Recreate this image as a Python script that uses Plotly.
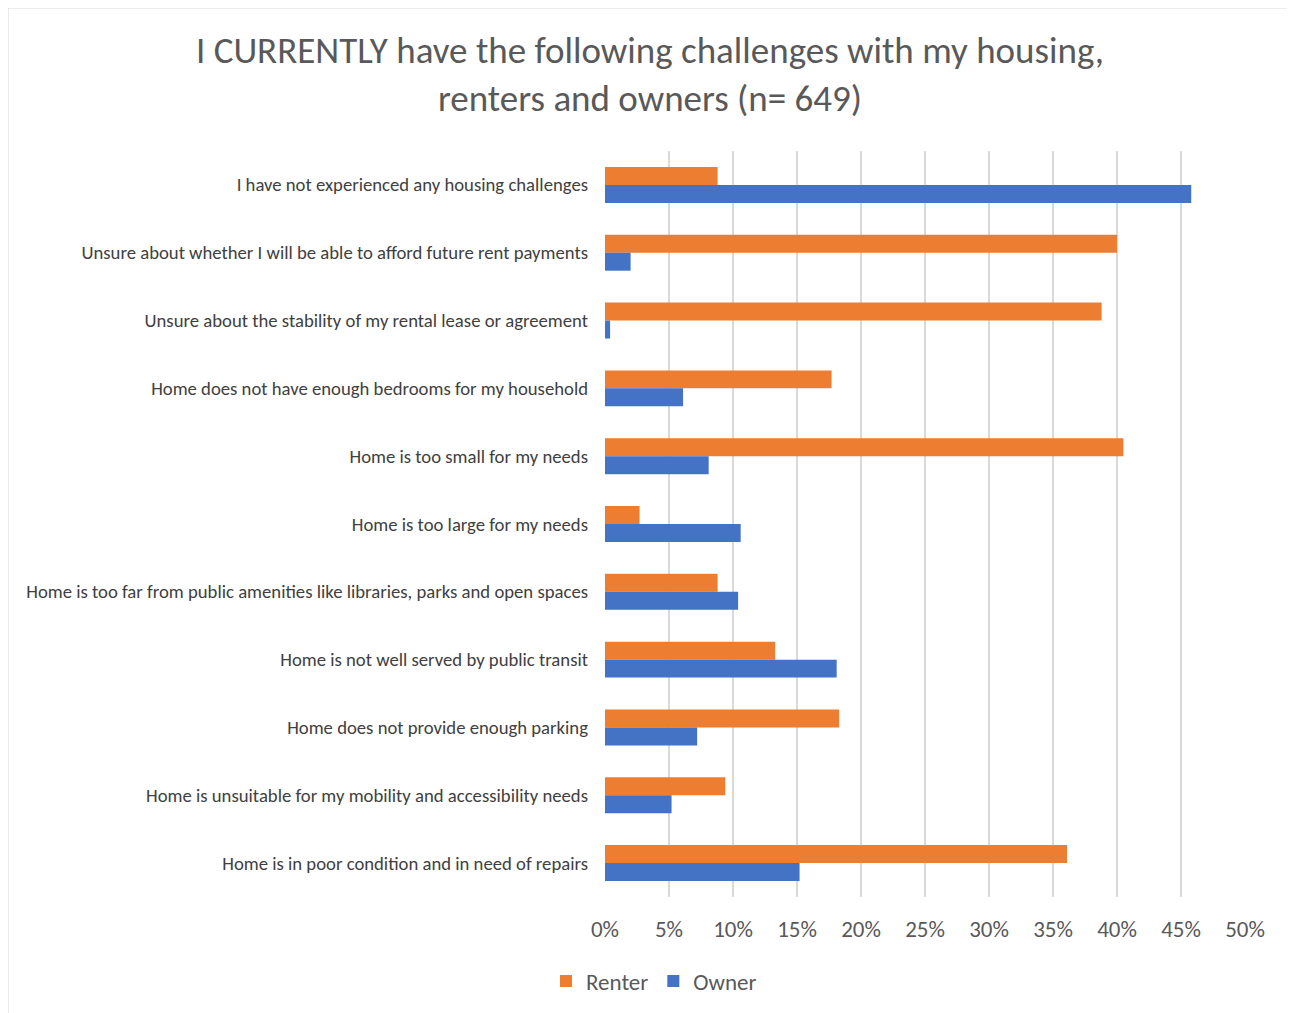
import plotly.graph_objects as go

categories = [
    "I have not experienced any housing challenges",
    "Unsure about whether I will be able to afford future rent payments",
    "Unsure about the stability of my rental lease or agreement",
    "Home does not have enough bedrooms for my household",
    "Home is too small for my needs",
    "Home is too large for my needs",
    "Home is too far from public amenities like libraries, parks and open spaces",
    "Home is not well served by public transit",
    "Home does not provide enough parking",
    "Home is unsuitable for my mobility and accessibility needs",
    "Home is in poor condition and in need of repairs",
]
renter = [8.8, 40.0, 38.8, 17.7, 40.5, 2.7, 8.8, 13.3, 18.3, 9.4, 36.1]
owner = [45.8, 2.0, 0.4, 6.1, 8.1, 10.6, 10.4, 18.1, 7.2, 5.2, 15.2]
x_ticks = [0, 5, 10, 15, 20, 25, 30, 35, 40, 45, 50]
x_tick_labels = [f"{v}%" for v in x_ticks]

FONT = "Carlito, Lato, 'Open Sans', sans-serif"

fig = go.Figure()
fig.add_trace(go.Bar(y=categories, x=renter, name="Renter", orientation="h",
                     marker=dict(color="#ED7D31", line=dict(width=0))))
fig.add_trace(go.Bar(y=categories, x=owner, name="Owner", orientation="h",
                     marker=dict(color="#4472C4", line=dict(width=0))))

OFF = 8  # page offset of the figure (body margin)
W, H = 1295 - OFF, 1013 - OFF
L, T = 605 - OFF, 151 - OFF
R = W - (1245 - OFF)
B = H - (897 - OFF)
pw = W - L - R
ph = H - T - B

fig.update_layout(
    width=W, height=H,
    margin=dict(l=L, r=R, t=T, b=B, autoexpand=False),
    paper_bgcolor="white", plot_bgcolor="white",
    barmode="group", bargap=0.47, bargroupgap=0,
    title=dict(text="I CURRENTLY have the following challenges with my housing,<br>renters and owners (n= 649)",
               x=(650 - OFF) / W, xanchor="center", y=1 - 55 / H, yanchor="middle",
               font=dict(family=FONT, size=37, color="#595959")),
    font=dict(family=FONT, color="#595959"),
    xaxis=dict(range=[0, 50], tickvals=x_ticks, ticktext=x_tick_labels,
               showgrid=True, gridcolor="#d9d9d9", gridwidth=1.5,
               zeroline=False, showline=False, ticks="",
               tickfont=dict(family=FONT, size=23, color="#595959"),
               ticklabelstandoff=16, fixedrange=True),
    yaxis=dict(autorange="reversed", showgrid=False, zeroline=False, showline=False,
               ticks="", tickfont=dict(family=FONT, size=18.7, color="#404040"),
               ticklabelstandoff=16),
    legend=dict(orientation="h", x=(654 - OFF - L) / pw, xanchor="center",
                y=((897 - OFF) - (981 - OFF)) / ph, yanchor="middle",
                font=dict(family=FONT, size=23, color="#595959"),
                itemwidth=30, traceorder="normal"),
    showlegend=True,
)

# outer chart border (left, top, right; no visible bottom)
xl = (-0.5 - L) / pw
xr = (1294 - OFF - L) / pw
yt = (H - B + 0.5 - 0) / ph
yt = (H - B - (-0.5)) / ph
yb = (H - B - (H + 20)) / ph
fig.add_shape(type="path", xref="paper", yref="paper",
              path=f"M {xl} {yb} L {xl} {yt} L {xr} {yt} L {xr} {yb}",
              line=dict(color="#d9d9d9", width=2), layer="below")

fig.write_html("out.html")
